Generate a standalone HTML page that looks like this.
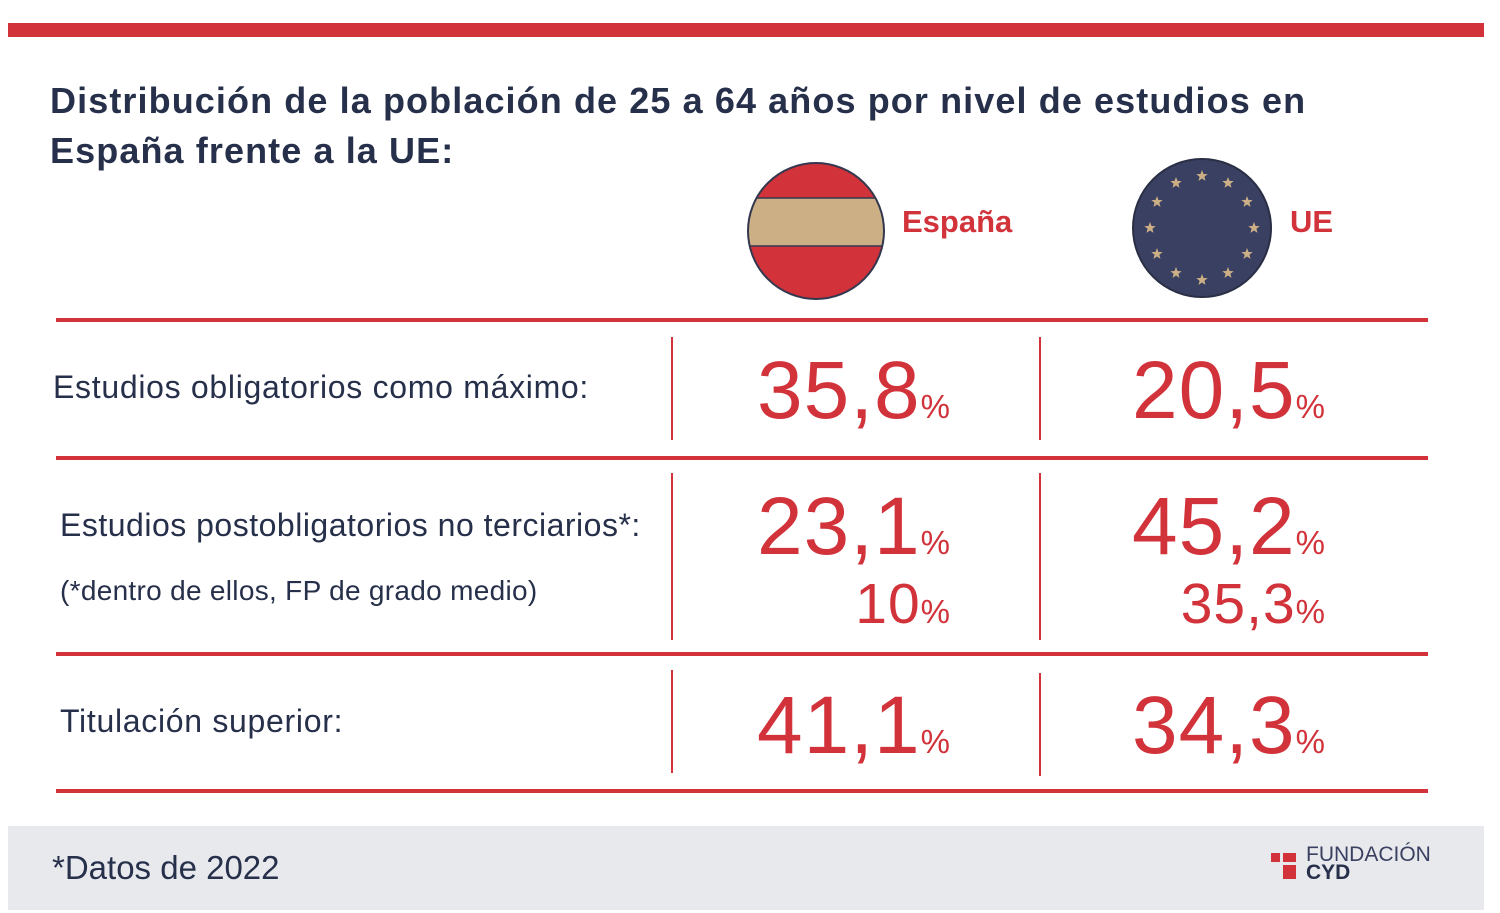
<!DOCTYPE html>
<html><head><meta charset="utf-8"><style>
body{margin:0;width:1500px;height:913px;background:#fff;position:relative;overflow:hidden;font-family:"Liberation Sans",Arial,sans-serif;color:#27304a}
.abs{position:absolute}
.hl{position:absolute;left:56px;width:1372px;height:4px;background:#d2323a}
.vl{position:absolute;width:2px;background:#d2323a}
.lbl{position:absolute;font-size:32px;letter-spacing:0.7px;color:#27304a;white-space:nowrap}
.num{position:absolute;color:#d2323a;white-space:nowrap;text-align:right;line-height:1;letter-spacing:1px}
.num span{font-size:33px;letter-spacing:0}
</style></head><body>
<div class="abs" style="left:8px;top:23px;width:1476px;height:14px;background:#d2323a"></div>
<div class="abs" style="left:50px;top:76px;font-size:36px;letter-spacing:1.1px;font-weight:bold;line-height:50px;color:#27304a">Distribución de la población de 25 a 64 años por nivel de estudios en<br>España frente a la UE:</div>

<svg class="abs" style="left:745px;top:160px" width="142" height="142" viewBox="0 0 142 142">
<defs><clipPath id="c1"><circle cx="71" cy="71" r="68"/></clipPath></defs>
<g clip-path="url(#c1)"><rect width="142" height="142" fill="#d2323a"/><rect y="38" width="142" height="48" fill="#cdaf86" stroke="#33384f" stroke-width="1.5"/></g>
<circle cx="71" cy="71" r="68" fill="none" stroke="#33384f" stroke-width="2"/></svg>
<div class="abs" style="left:902px;top:204px;font-size:31px;font-weight:bold;color:#d2323a">España</div>

<svg class="abs" style="left:1131px;top:157px" width="142" height="142" viewBox="0 0 142 142" id="eu">
<circle cx="71" cy="71" r="69" fill="#3a4061" stroke="#2a2f45" stroke-width="2"/></svg>
<div class="abs" style="left:1290px;top:204px;font-size:31px;font-weight:bold;color:#d2323a">UE</div>

<div class="hl" style="top:318px"></div>
<div class="hl" style="top:456px"></div>
<div class="hl" style="top:652px"></div>
<div class="hl" style="top:789px"></div>

<div class="vl" style="left:671px;top:337px;height:103px"></div>
<div class="vl" style="left:1039px;top:337px;height:103px"></div>
<div class="vl" style="left:671px;top:473px;height:167px"></div>
<div class="vl" style="left:1039px;top:473px;height:167px"></div>
<div class="vl" style="left:671px;top:670px;height:103px"></div>
<div class="vl" style="left:1039px;top:673px;height:103px"></div>

<div id="rows"></div>

<div class="abs" style="left:8px;top:826px;width:1476px;height:84px;background:#e8e9ed"></div>
<div class="abs" style="left:52px;top:849px;font-size:33px;color:#27304a">*Datos de 2022</div>
<div class="abs" style="left:1271px;top:853px;width:9px;height:9px;background:#d2323a"></div>
<div class="abs" style="left:1283px;top:853px;width:13px;height:9px;background:#d2323a"></div>
<div class="abs" style="left:1283px;top:865px;width:13px;height:14px;background:#d2323a"></div>
<div class="abs" style="left:1306px;top:846px;font-size:21px;line-height:18px;color:#3a4060">FUNDACIÓN<br><b style="color:#27304a">CYD</b></div>

<script>
const categories=["Estudios obligatorios como máximo:","Estudios postobligatorios no terciarios*:","Titulación superior:"];
const espana=["35,8","23,1","41,1"];
const ue=["20,5","45,2","34,3"];
const subLabel="(*dentro de ellos, FP de grado medio)";
const espanaSub="10";
const ueSub="35,3";
const labelTops=[369,507,703];
const numTops=[350,486,685];
const root=document.getElementById('rows');
function add(cls,html,style,name){const d=document.createElement('div');d.className=cls;d.innerHTML=html;d.style.cssText=style;


root.appendChild(d);}
categories.forEach((c,i)=>{
 add('lbl',c,`left:${i==0?53:60}px;top:${labelTops[i]}px`+(i==1?';letter-spacing:0.5px':''),'row-label');
 add('num',espana[i]+'<span>%</span>',`right:${1500-950}px;top:${numTops[i]}px;font-size:82px`,'value-espana');
 add('num',ue[i]+'<span>%</span>',`right:${1500-1325}px;top:${numTops[i]}px;font-size:82px`,'value-ue');
});
add('lbl',subLabel,'left:60px;top:575px;font-size:28px;letter-spacing:0.3px','sub-label');
add('num',espanaSub+'<span>%</span>','right:550px;top:576px;font-size:57px','sub-value-espana');
add('num',ueSub+'<span>%</span>','right:175px;top:576px;font-size:57px','sub-value-ue');
const eu=document.getElementById('eu');
for(let k=0;k<12;k++){const a=k*Math.PI/6;const cx=71+52*Math.sin(a),cy=71-52*Math.cos(a);
 let p=[];for(let j=0;j<10;j++){const r=j%2?2.5:6;const b=j*Math.PI/5;p.push((cx+r*Math.sin(b)).toFixed(1)+','+(cy-r*Math.cos(b)).toFixed(1));}
 const s=document.createElementNS('http://www.w3.org/2000/svg','polygon');s.setAttribute('points',p.join(' '));s.setAttribute('fill','#cdaf86');
 
 
 eu.appendChild(s);}
</script>
</body></html>
